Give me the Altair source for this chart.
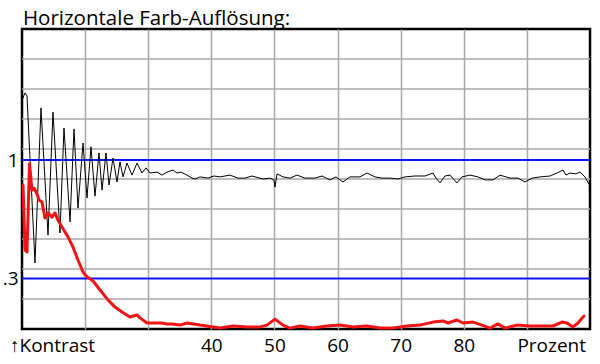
import altair as alt
import pandas as pd

# --- data (x: Prozent, y: contrast in grid units 0..10) ---
black_x = [10.0, 10.48, 10.79, 12.06, 13.01, 14.12, 14.91, 16.02, 16.65, 17.61, 18.24, 18.87,
           19.67, 20.30, 20.93, 21.57, 22.20, 22.68, 23.31, 23.79, 24.42, 25.05, 25.53, 26.0,
           26.64, 27.43, 28.22, 29.01, 29.65, 30.28, 31.39, 32.18, 32.98, 33.93, 34.56, 35.19,
           36.14, 36.94, 37.41, 38.2, 39.47, 40.42, 41.37, 42.96, 44.22, 45.33, 46.44, 48.19,
           49.30, 49.93, 50.09, 50.41, 51.36, 52.46, 53.57, 54.84, 56.42, 57.53, 58.80, 59.75,
           60.86, 61.97, 63.56, 64.67, 65.93, 67.04, 68.31, 69.58, 70.69, 72.27, 73.86, 75.12,
           75.6, 76.23, 77.02, 77.82, 78.92, 79.72, 80.99, 82.25, 83.36, 84.63, 85.74, 87.32,
           88.59, 89.70, 90.81, 92.08, 93.66, 94.77, 95.72, 96.2, 96.83, 97.78, 98.41, 99.21,
           99.84]
black_y = [7.63, 7.87, 7.77, 2.2, 7.37, 3.13, 7.23, 3.2, 6.7, 3.57, 6.67, 4.03,
           6.2, 4.37, 6.07, 4.43, 5.87, 4.63, 5.87, 4.8, 5.7, 4.9, 5.57, 5.07,
           5.53, 5.13, 5.53, 5.2, 5.37, 5.2, 5.23, 5.13, 5.23, 5.3, 5.2, 5.23,
           5.13, 5.03, 5.0, 5.07, 5.03, 5.1, 5.07, 5.13, 5.03, 5.03, 5.1, 5.0,
           5.03, 4.97, 4.73, 5.17, 5.07, 5.03, 5.13, 5.03, 5.03, 5.1, 4.97, 5.07,
           4.9, 5.07, 5.07, 5.2, 5.07, 5.03, 5.03, 5.0, 5.07, 5.1, 5.1, 5.2,
           5.03, 4.87, 5.1, 5.13, 4.87, 5.07, 5.13, 5.07, 4.97, 4.97, 5.13, 5.03,
           5.03, 4.9, 5.03, 5.07, 5.1, 5.2, 5.3, 5.13, 5.2, 5.17, 5.23, 5.07,
           4.83]

red_x = [10.16, 10.48, 10.79, 11.19, 11.58, 11.9, 12.38, 12.69, 13.17, 13.64, 14.12, 14.75,
         15.23, 15.70, 16.34, 16.81, 17.29, 18.08, 18.87, 19.67, 20.14, 21.25, 22.36, 23.63,
         24.74, 25.85, 27.11, 28.22, 28.70, 29.81, 30.6, 32.18, 32.98, 33.77, 35.03, 36.14,
         38.2, 40.26, 41.37, 43.43, 45.65, 47.71, 48.82, 50.09, 51.36, 52.46, 54.05, 56.11,
         58.33, 60.39, 62.45, 64.67, 66.73, 68.78, 71.0, 73.06, 75.12, 76.71, 77.5, 78.92,
         79.88, 81.46, 82.89, 84.15, 85.42, 86.53, 88.43, 90.49, 92.55, 94.13, 95.56, 96.36,
         97.31, 98.1, 98.89, 99.05]
red_y = [4.8, 2.63, 2.57, 5.5, 4.63, 4.7, 4.5, 4.3, 4.23, 3.7, 3.87, 3.73,
         3.87, 3.63, 3.4, 3.23, 3.07, 2.73, 2.3, 1.9, 1.77, 1.6, 1.3, 0.97,
         0.73, 0.57, 0.4, 0.47, 0.37, 0.2, 0.2, 0.2, 0.17, 0.17, 0.13, 0.2,
         0.13, 0.07, 0.03, 0.1, 0.07, 0.07, 0.13, 0.33, 0.13, 0.03, 0.1, 0.03,
         0.1, 0.13, 0.07, 0.1, 0.03, 0.03, 0.1, 0.13, 0.23, 0.27, 0.2, 0.3,
         0.2, 0.23, 0.13, 0.03, 0.17, 0.03, 0.13, 0.1, 0.1, 0.1, 0.23, 0.2,
         0.07, 0.2, 0.4, 0.43]

grid_x = [20, 30, 40, 50, 60, 70, 80, 90]
grid_y = [1, 2, 3, 4, 5, 6, 7, 8, 9]
labelled_x = [40, 50, 60, 70, 80]
ref_levels = [5.63, 1.68]
ref_labels = ["1", ".3"]
corner_x = [10, 100]
corner_labels = ["\u2191Kontrast", "Prozent"]
title_text = "Horizontale Farb-Aufl\u00f6sung:"

FONT = "Open Sans"
LABEL_SIZE = 19

black_df = pd.DataFrame({"x": black_x, "y": black_y})
red_df = pd.DataFrame({"x": red_x, "y": red_y})
gy_df = pd.DataFrame({"y": grid_y})
ref_df = pd.DataFrame({"y": ref_levels, "label": ref_labels})
corner_df = pd.DataFrame({"x": corner_x, "label": corner_labels})

x_scale = alt.Scale(domain=[10, 100], nice=False, zero=False)
y_scale = alt.Scale(domain=[0, 10], nice=False, zero=False)

lab_test = " || ".join(f"datum.value == {v}" for v in labelled_x)
x_axis = alt.Axis(values=grid_x, grid=True, gridColor="#a8a8a8", gridWidth=1.5,
                  domain=False, ticks=False, labelFont=FONT, labelFontSize=LABEL_SIZE,
                  labelColor="black", labelPadding=22, labelBaseline="alphabetic",
                  labelExpr=f"({lab_test}) ? datum.label : ''", title=None)
y_map = " : ".join(f"abs(datum.value - {v}) < 0.01 ? '{l}'" for v, l in zip(ref_levels, ref_labels)) + " : ''"
y_axis = alt.Axis(values=ref_levels, grid=False, domain=False, ticks=False,
                  labelFont=FONT, labelFontSize=LABEL_SIZE, labelColor="black", labelPadding=4,
                  labelBaseline="middle", labelExpr=y_map, title=None)


def X(field):
    return alt.X(field, type="quantitative", scale=x_scale, axis=x_axis)


def Y(field):
    return alt.Y(field, type="quantitative", scale=y_scale, axis=y_axis)


hgrid = alt.Chart(gy_df).mark_rule(color="#a8a8a8", strokeWidth=1.5).encode(y=Y("y"))
blue = alt.Chart(ref_df).mark_rule(color="#0a14ff", strokeWidth=2).encode(y=Y("y"))
black = alt.Chart(black_df).mark_line(color="black", strokeWidth=1, strokeJoin="round").encode(
    x=X("x"), y=Y("y"), order="x:Q")
red = alt.Chart(red_df).mark_line(color="#f01414", strokeWidth=3, strokeJoin="round",
                                  strokeCap="round").encode(x=X("x"), y=Y("y"), order="x:Q")

left_txt = alt.Chart(corner_df.iloc[[0]]).mark_text(
    align="left", baseline="alphabetic", dx=-12, dy=23, font=FONT, fontSize=LABEL_SIZE, color="black"
).encode(x=X("x"), y=alt.Y(datum=0, scale=y_scale, axis=y_axis), text="label:N")
right_txt = alt.Chart(corner_df.iloc[[1]]).mark_text(
    align="right", baseline="alphabetic", dx=-4, dy=23, font=FONT, fontSize=LABEL_SIZE, color="black"
).encode(x=X("x"), y=alt.Y(datum=0, scale=y_scale, axis=y_axis), text="label:N")

chart = alt.layer(hgrid, blue, black, red, left_txt, right_txt).properties(
    width=568, height=300,
    autosize=alt.AutoSizeParams(type="none"),
    padding={"left": 22, "top": 29, "right": 10, "bottom": 35},
    background="white",
    title=alt.TitleParams(title_text, anchor="start", frame="group", font=FONT, fontSize=20.5,
                          fontWeight="normal", color="black", offset=-16, baseline="alphabetic", dx=1),
).configure_view(stroke="black", strokeWidth=2.5)

chart.save("out.html", embed_options={"renderer": "svg", "actions": False})
